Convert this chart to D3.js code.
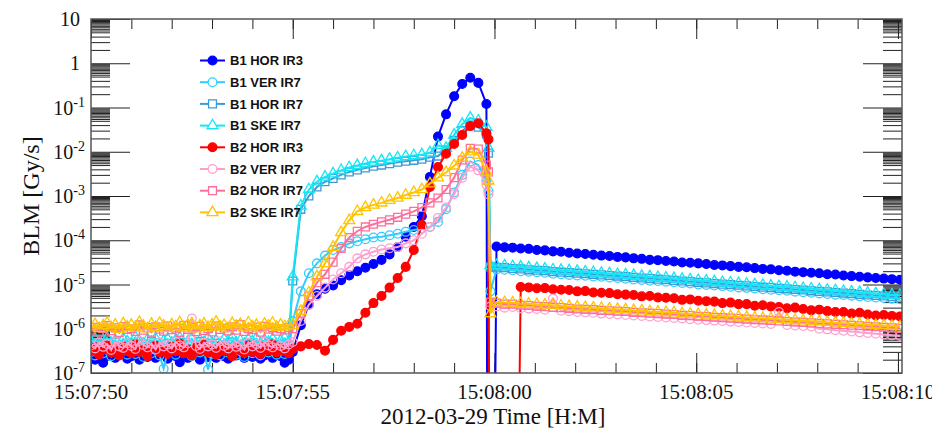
<!DOCTYPE html>
<html>
<head>
<meta charset="utf-8">
<script src="https://cdn.jsdelivr.net/npm/d3@7"></script>
<style>
  body { margin: 0; background: #fff; }
  svg { display: block; }
</style>
</head>
<body>
<svg id="chart" width="932" height="430"></svg>
<script>
// seconds after 15:07:50
var times = [
  0,0.1,0.2,0.3,0.4,0.5,0.6,0.7,0.8,0.9,1,1.1,1.2,1.3,1.4,1.5,1.6,1.7,1.8,1.9,
  2,2.1,2.2,2.3,2.4,2.5,2.6,2.7,2.8,2.9,3,3.1,3.2,3.3,3.4,3.5,3.6,3.7,3.8,3.9,
  4,4.1,4.2,4.3,4.4,4.5,4.6,4.7,4.8,4.9,
  5,5.2,5.4,5.6,5.8,6,6.2,6.4,6.6,6.8,7,7.2,7.4,7.6,7.8,8,8.2,8.4,8.6,8.8,9,9.2,9.4,9.6,9.8,
  9.85,9.9,
  10.05,10.25,10.45,10.65,10.85,11.05,11.25,11.45,11.65,11.85,
  12.05,12.25,12.45,12.65,12.85,13.05,13.25,13.45,13.65,13.85,
  14.05,14.25,14.45,14.65,14.85,15.05,15.25,15.45,15.65,15.85,
  16.05,16.25,16.45,16.65,16.85,17.05,17.25,17.45,17.65,17.85,
  18.05,18.25,18.45,18.65,18.85,19.05,19.25,19.45,19.65,19.85,
  20.05
];

// BLM readings [Gy/s]; 0 = no reading (drawn down off the axis)
var b1HorIr3 = [
  2.3e-7,2.0e-7,2.7e-7,1.7e-7,2.5e-7,2.9e-7,2.2e-7,2.6e-7,3.1e-7,2.1e-7,
  2.4e-7,2.8e-7,2.0e-7,2.6e-7,2.3e-7,3.0e-7,2.2e-7,2.5e-7,2.7e-7,2.1e-7,
  2.9e-7,2.4e-7,1.75e-7,2.6e-7,2.2e-7,2.8e-7,2.5e-7,2.0e-7,3.1e-7,2.3e-7,
  2.6e-7,2.2e-7,2.9e-7,2.4e-7,2.1e-7,2.7e-7,2.5e-7,3.0e-7,2.2e-7,2.6e-7,
  2.3e-7,2.8e-7,2.1e-7,2.5e-7,2.9e-7,2.2e-7,2.6e-7,2.4e-7,1.7e-7,2.0e-7,
  3e-7,1.2e-6,3.5e-6,6e-6,8e-6,9.5e-6,1.25e-5,1.6e-5,2e-5,2.4e-5,
  2.9e-5,3.6e-5,4.8e-5,7e-5,1.2e-4,2e-4,3.5e-4,2.7e-3,2.2e-2,7e-2,
  0.18,0.34,0.47,0.36,0.12,
  0,0,
  7.2e-5,6.9e-5,6.8e-5,6.5e-5,6.4e-5,6.0e-5,5.9e-5,5.6e-5,5.5e-5,5.2e-5,
  5.0e-5,4.9e-5,4.7e-5,4.5e-5,4.4e-5,4.2e-5,4.1e-5,3.9e-5,3.8e-5,3.6e-5,
  3.55e-5,3.4e-5,3.3e-5,3.15e-5,3.1e-5,3.0e-5,2.9e-5,2.75e-5,2.7e-5,2.6e-5,
  2.5e-5,2.45e-5,2.35e-5,2.25e-5,2.2e-5,2.1e-5,2.05e-5,1.95e-5,1.9e-5,1.85e-5,
  1.8e-5,1.7e-5,1.68e-5,1.6e-5,1.55e-5,1.5e-5,1.45e-5,1.4e-5,1.36e-5,1.32e-5,
  1.28e-5
];
var b1VerIr7 = [
  3.0e-7,2.5e-7,3.6e-7,2.8e-7,3.3e-7,2.4e-7,3.8e-7,2.9e-7,3.2e-7,2.6e-7,
  3.5e-7,2.7e-7,3.1e-7,2.3e-7,3.7e-7,2.8e-7,3.3e-7,2.5e-7,1.25e-7,3.0e-7,
  3.4e-7,2.6e-7,3.9e-7,2.8e-7,3.2e-7,2.4e-7,3.5e-7,2.9e-7,3.1e-7,1.2e-7,
  2.7e-7,3.6e-7,2.5e-7,3.3e-7,2.9e-7,3.8e-7,2.6e-7,3.1e-7,2.3e-7,3.4e-7,
  2.8e-7,3.7e-7,2.5e-7,3.2e-7,2.9e-7,3.5e-7,2.6e-7,3.3e-7,2.7e-7,3.0e-7,
  1.5e-6,7e-6,1.8e-5,3e-5,4.5e-5,6e-5,7e-5,8.5e-5,9.5e-5,1.05e-4,
  1.15e-4,1.2e-4,1.3e-4,1.4e-4,1.55e-4,1.7e-4,1.85e-4,2e-4,2.6e-4,5e-4,
  1.2e-3,3e-3,6e-3,5e-3,2.2e-3,
  1.3e-3,7e-6,
  2.2e-5,2.15e-5,2.1e-5,2.0e-5,1.95e-5,1.9e-5,1.85e-5,1.75e-5,1.7e-5,1.65e-5,
  1.6e-5,1.58e-5,1.52e-5,1.5e-5,1.44e-5,1.4e-5,1.35e-5,1.3e-5,1.26e-5,1.22e-5,
  1.2e-5,1.15e-5,1.12e-5,1.08e-5,1.05e-5,1.0e-5,9.8e-6,9.5e-6,9.2e-6,8.9e-6,
  8.6e-6,8.4e-6,8.1e-6,7.8e-6,7.6e-6,7.4e-6,7.2e-6,6.9e-6,6.7e-6,6.5e-6,
  6.3e-6,6.1e-6,5.9e-6,5.8e-6,5.6e-6,5.4e-6,5.2e-6,5.1e-6,4.95e-6,4.8e-6,
  4.65e-6
];
var b1HorIr7 = [
  4.1e-7,3.5e-7,4.8e-7,3.9e-7,4.4e-7,3.3e-7,5.0e-7,3.8e-7,4.3e-7,3.6e-7,
  4.7e-7,4.0e-7,3.4e-7,4.5e-7,3.9e-7,5.2e-7,3.7e-7,4.2e-7,3.5e-7,4.6e-7,
  4.0e-7,3.3e-7,4.9e-7,3.8e-7,4.4e-7,3.6e-7,4.1e-7,5.1e-7,3.9e-7,4.3e-7,
  3.4e-7,4.7e-7,3.8e-7,4.2e-7,3.6e-7,4.9e-7,4.0e-7,3.5e-7,4.5e-7,3.9e-7,
  4.6e-7,3.7e-7,4.3e-7,3.4e-7,4.8e-7,4.0e-7,3.6e-7,4.4e-7,3.9e-7,4.2e-7,
  1.2e-5,5e-4,1.0e-3,1.6e-3,2.1e-3,2.5e-3,3e-3,3.5e-3,3.9e-3,4.3e-3,
  4.7e-3,5e-3,5.4e-3,5.8e-3,6.1e-3,6.4e-3,6.8e-3,7.5e-3,8e-3,1.1e-2,
  1.8e-2,3e-2,4e-2,3.6e-2,2.5e-2,
  9.3e-3,2.5e-5,
  2.45e-5,2.4e-5,2.3e-5,2.25e-5,2.15e-5,2.1e-5,2.05e-5,1.95e-5,1.9e-5,1.85e-5,
  1.8e-5,1.75e-5,1.7e-5,1.65e-5,1.6e-5,1.55e-5,1.5e-5,1.45e-5,1.4e-5,1.36e-5,
  1.32e-5,1.28e-5,1.24e-5,1.2e-5,1.16e-5,1.12e-5,1.09e-5,1.05e-5,1.02e-5,9.9e-6,
  9.6e-6,9.3e-6,9.0e-6,8.7e-6,8.5e-6,8.2e-6,8.0e-6,7.7e-6,7.5e-6,7.2e-6,
  7.0e-6,6.8e-6,6.6e-6,6.4e-6,6.2e-6,6.0e-6,5.8e-6,5.65e-6,5.5e-6,5.3e-6,
  5.15e-6
];
var b1SkeIr7 = [
  5.0e-7,5.8e-7,4.4e-7,5.4e-7,6.2e-7,4.7e-7,5.5e-7,4.2e-7,5.9e-7,5.1e-7,
  4.6e-7,6.4e-7,5.2e-7,4.5e-7,5.7e-7,4.9e-7,6.0e-7,4.3e-7,5.3e-7,5.8e-7,
  4.8e-7,5.5e-7,6.3e-7,4.6e-7,5.1e-7,5.9e-7,4.4e-7,5.6e-7,5.0e-7,6.1e-7,
  4.7e-7,5.3e-7,4.2e-7,5.8e-7,5.2e-7,6.4e-7,4.8e-7,5.4e-7,4.5e-7,5.7e-7,
  5.1e-7,6.0e-7,4.6e-7,5.5e-7,4.9e-7,5.8e-7,4.4e-7,5.3e-7,6.1e-7,5.0e-7,
  1.5e-5,6e-4,1.4e-3,2.1e-3,2.7e-3,3.2e-3,3.8e-3,4.4e-3,4.9e-3,5.4e-3,
  5.9e-3,6.3e-3,6.8e-3,7.3e-3,7.8e-3,8.2e-3,8.6e-3,9.5e-3,1.4e-2,1.2e-2,
  2.4e-2,4.2e-2,5.8e-2,5e-2,3.6e-2,
  1.2e-2,2.7e-5,
  2.7e-5,2.65e-5,2.55e-5,2.5e-5,2.4e-5,2.3e-5,2.25e-5,2.15e-5,2.1e-5,2.05e-5,
  2.0e-5,1.92e-5,1.88e-5,1.8e-5,1.76e-5,1.7e-5,1.66e-5,1.6e-5,1.54e-5,1.5e-5,
  1.45e-5,1.41e-5,1.37e-5,1.32e-5,1.28e-5,1.24e-5,1.2e-5,1.16e-5,1.12e-5,1.09e-5,
  1.06e-5,1.02e-5,9.9e-6,9.6e-6,9.3e-6,9.0e-6,8.8e-6,8.5e-6,8.2e-6,8.0e-6,
  7.7e-6,7.5e-6,7.3e-6,7.0e-6,6.8e-6,6.6e-6,6.4e-6,6.2e-6,6.0e-6,5.8e-6,
  5.7e-6
];
var b2HorIr3 = [
  3.1e-7,3.8e-7,2.6e-7,3.4e-7,4.2e-7,2.9e-7,3.6e-7,2.5e-7,3.9e-7,3.2e-7,
  2.8e-7,4.4e-7,3.0e-7,3.5e-7,2.4e-7,3.7e-7,4.1e-7,2.9e-7,3.3e-7,2.7e-7,
  3.9e-7,3.1e-7,4.6e-7,2.8e-7,3.4e-7,2.5e-7,3.8e-7,3.2e-7,4.3e-7,2.9e-7,
  3.5e-7,2.6e-7,4.0e-7,3.1e-7,3.6e-7,2.4e-7,3.8e-7,3.3e-7,2.8e-7,4.2e-7,
  3.0e-7,3.5e-7,2.7e-7,3.9e-7,3.2e-7,4.4e-7,2.9e-7,3.6e-7,3.1e-7,2.8e-7,
  3.5e-7,4e-7,4.5e-7,4.3e-7,3.2e-7,5.6e-7,9e-7,1.1e-6,1.3e-6,2.3e-6,
  3.8e-6,5.5e-6,8.5e-6,1.4e-5,2.5e-5,6e-5,2.2e-4,1.6e-3,4.5e-3,9e-3,
  1.5e-2,2.4e-2,3.8e-2,4.4e-2,2.6e-2,
  1.9e-2,0,
  0,0,0,8.8e-6,8.6e-6,8.2e-6,8.3e-6,7.8e-6,7.6e-6,7.5e-6,
  7.0e-6,7.1e-6,6.6e-6,6.5e-6,6.4e-6,6.0e-6,5.9e-6,5.8e-6,5.4e-6,5.5e-6,
  5.1e-6,5.0e-6,4.9e-6,4.5e-6,4.6e-6,4.3e-6,4.2e-6,4.1e-6,3.8e-6,3.9e-6,
  3.6e-6,3.6e-6,3.3e-6,3.4e-6,3.2e-6,3.1e-6,2.9e-6,3.0e-6,2.8e-6,2.6e-6,
  2.7e-6,2.5e-6,2.4e-6,2.4e-6,2.2e-6,2.3e-6,2.1e-6,2.0e-6,2.05e-6,1.95e-6,
  1.9e-6
];
var b2VerIr7 = [
  4.2e-7,3.6e-7,4.9e-7,3.9e-7,4.5e-7,3.3e-7,5.1e-7,4.0e-7,3.7e-7,4.7e-7,
  4.1e-7,3.5e-7,5.3e-7,4.3e-7,3.8e-7,4.6e-7,3.4e-7,4.9e-7,4.0e-7,4.4e-7,
  3.6e-7,5.0e-7,4.2e-7,3.8e-7,4.7e-7,1.7e-6,4.1e-7,3.5e-7,4.8e-7,4.0e-7,
  4.4e-7,3.7e-7,5.2e-7,4.1e-7,3.6e-7,4.6e-7,3.9e-7,4.3e-7,3.4e-7,4.9e-7,
  4.0e-7,4.5e-7,3.7e-7,5.0e-7,4.2e-7,3.8e-7,4.6e-7,4.1e-7,3.6e-7,4.4e-7,
  5e-7,1.5e-6,3.5e-6,5.5e-6,8.5e-6,1.3e-5,1.8e-5,2.5e-5,3.9e-5,4.8e-5,
  5.5e-5,6.2e-5,6.6e-5,7e-5,8.5e-5,1e-4,1.4e-4,2e-4,3.2e-4,5.5e-4,
  1.1e-3,2.6e-3,4.6e-3,3.8e-3,1.8e-3,
  1.1e-3,3.2e-6,
  3.2e-6,3.0e-6,3.1e-6,2.9e-6,2.85e-6,2.8e-6,2.7e-6,4.8e-6,2.55e-6,2.5e-6,
  2.4e-6,2.35e-6,2.3e-6,2.2e-6,2.15e-6,2.1e-6,2.05e-6,2.0e-6,1.95e-6,1.9e-6,
  1.85e-6,1.8e-6,1.75e-6,1.7e-6,1.65e-6,1.6e-6,1.57e-6,1.53e-6,1.5e-6,1.45e-6,
  1.42e-6,1.38e-6,1.35e-6,1.32e-6,1.28e-6,2.4e-6,1.22e-6,1.18e-6,1.15e-6,1.12e-6,
  1.0e-6,9.7e-7,9.3e-7,9.0e-7,8.7e-7,8.3e-7,8.0e-7,7.7e-7,7.4e-7,7.1e-7,
  6.9e-7
];
var b2HorIr7 = [
  9.4e-7,1.08e-6,8.5e-7,1.02e-6,1.18e-6,9.0e-7,1.05e-6,8.2e-7,1.12e-6,9.6e-7,
  1.0e-6,8.7e-7,1.22e-6,9.3e-7,1.06e-6,8.4e-7,1.1e-6,9.8e-7,8.8e-7,1.15e-6,
  9.5e-7,1.03e-6,8.3e-7,1.2e-6,9.7e-7,1.07e-6,8.6e-7,1.13e-6,9.2e-7,1.0e-6,
  8.5e-7,1.17e-6,9.6e-7,1.04e-6,8.9e-7,1.11e-6,9.3e-7,1.24e-6,8.7e-7,1.01e-6,
  9.5e-7,1.09e-6,8.4e-7,1.14e-6,9.8e-7,1.05e-6,8.8e-7,1.0e-6,9.4e-7,1.06e-6,
  1.0e-6,2.2e-6,5.5e-6,1.1e-5,1.7e-5,3.2e-5,6.5e-5,1.15e-4,1.6e-4,2e-4,
  2.3e-4,2.6e-4,2.9e-4,3.3e-4,3.9e-4,4.5e-4,5.5e-4,7e-4,9e-4,1.4e-3,
  2.6e-3,6.5e-3,1.2e-2,1.15e-2,5e-3,
  3.5e-3,4e-6,
  3.8e-6,3.6e-6,3.6e-6,3.4e-6,3.35e-6,3.2e-6,3.15e-6,3.05e-6,3.0e-6,2.9e-6,
  2.8e-6,2.75e-6,2.7e-6,2.6e-6,2.55e-6,2.5e-6,2.45e-6,2.35e-6,2.3e-6,2.25e-6,
  2.2e-6,2.15e-6,2.1e-6,2.0e-6,1.98e-6,1.92e-6,1.88e-6,1.82e-6,1.78e-6,1.74e-6,
  1.7e-6,1.65e-6,1.6e-6,1.58e-6,1.54e-6,1.5e-6,1.46e-6,1.42e-6,1.39e-6,1.36e-6,
  1.32e-6,1.29e-6,1.26e-6,1.23e-6,1.2e-6,1.17e-6,1.14e-6,1.11e-6,1.08e-6,1.05e-6,
  1.02e-6
];
var b2SkeIr7 = [
  1.12e-6,1.25e-6,1.02e-6,1.18e-6,1.35e-6,1.06e-6,1.22e-6,0.98e-6,1.3e-6,1.1e-6,
  1.2e-6,1.04e-6,1.4e-6,1.14e-6,1.0e-6,1.27e-6,1.08e-6,1.33e-6,1.16e-6,1.03e-6,
  1.24e-6,1.12e-6,1.38e-6,1.05e-6,1.2e-6,1.3e-6,1.0e-6,1.17e-6,1.28e-6,1.07e-6,
  1.22e-6,1.42e-6,1.1e-6,1.19e-6,1.02e-6,1.32e-6,1.14e-6,1.25e-6,1.06e-6,1.36e-6,
  1.12e-6,1.2e-6,1.01e-6,1.28e-6,1.15e-6,1.34e-6,1.08e-6,1.22e-6,1.12e-6,1.18e-6,
  1.2e-6,2.5e-6,6.5e-6,1.5e-5,3e-5,7e-5,1.5e-4,2.8e-4,4.5e-4,5.5e-4,
  6.3e-4,7e-4,8e-4,9e-4,1.05e-3,1.2e-3,1.4e-3,1.9e-3,2.6e-3,3.4e-3,
  4.8e-3,7.2e-3,1.0e-2,8.5e-3,3.5e-3,
  2.2e-3,2.2e-6,
  4.0e-6,3.9e-6,3.85e-6,3.7e-6,3.65e-6,3.55e-6,3.45e-6,3.4e-6,3.3e-6,3.2e-6,
  3.1e-6,3.05e-6,2.95e-6,2.9e-6,2.8e-6,2.75e-6,2.7e-6,2.6e-6,2.55e-6,2.45e-6,
  2.4e-6,2.35e-6,2.3e-6,2.2e-6,2.15e-6,2.1e-6,2.05e-6,2.0e-6,1.95e-6,1.9e-6,
  1.85e-6,1.8e-6,1.75e-6,1.72e-6,1.68e-6,1.63e-6,1.6e-6,1.55e-6,1.52e-6,1.48e-6,
  1.45e-6,1.4e-6,1.37e-6,1.34e-6,1.3e-6,1.27e-6,1.24e-6,1.21e-6,1.18e-6,1.15e-6,
  1.12e-6
];

var seriesNames = ["B1 HOR IR3", "B1 VER IR7", "B1 HOR IR7", "B1 SKE IR7",
                   "B2 HOR IR3", "B2 VER IR7", "B2 HOR IR7", "B2 SKE IR7"];
var seriesValues = [b1HorIr3, b1VerIr7, b1HorIr7, b1SkeIr7, b2HorIr3, b2VerIr7, b2HorIr7, b2SkeIr7];

var xTickSeconds = [0, 5, 10, 15, 20];
var xTickLabels = ["15:07:50", "15:07:55", "15:08:00", "15:08:05", "15:08:10"];
var yTickExps = [-7, -6, -5, -4, -3, -2, -1, 0, 1];
var minorMantissas = [2, 3, 4, 5, 5.5, 6, 6.5, 7, 7.5, 8, 8.5, 9, 9.5];

// styles
var styles = [
  { color: "#0000ff", shape: "circle", filled: true },
  { color: "#33ccff", shape: "circle", filled: false },
  { color: "#3d9bd6", shape: "square", filled: false },
  { color: "#14e6f5", shape: "triangle", filled: false },
  { color: "#ff0000", shape: "circle", filled: true },
  { color: "#ff9fcf", shape: "circle", filled: false },
  { color: "#ff6f9c", shape: "square", filled: false },
  { color: "#ffc400", shape: "triangle", filled: false }
];
var symbolTypes = { circle: d3.symbolCircle, square: d3.symbolSquare, triangle: d3.symbolTriangle };
var symbolSizes = { circle: 60, square: 62, triangle: 52 };

var svg = d3.select("#chart");
var plotL = 91, plotR = 902, plotT = 19, plotB = 373;

var x = d3.scaleLinear().domain([0, 20.1]).range([plotL, plotR]);
var y = d3.scaleLog().domain([1e-7, 10]).range([plotB, plotT]);
var zeroFloor = 1e-20;   // where a zero reading is sent (far below the frame)
function py(v) { return y(v > 0 ? v : zeroFloor); }

svg.append("defs").append("clipPath").attr("id", "plotclip")
  .append("rect").attr("x", plotL).attr("y", plotT)
  .attr("width", plotR - plotL).attr("height", plotB - plotT);

// ticks
function ticks(axis, values, size, transform) {
  var g = svg.append("g").attr("transform", transform)
    .call(axis.tickValues(values).tickSize(size).tickFormat(""));
  g.select(".domain").remove();
  g.selectAll("line").attr("stroke", "#222").attr("stroke-width", 1);
}
var secMinor = d3.range(0, 21, 1);
var yMajor = yTickExps.map(function(e) { return Math.pow(10, e); });
var yMinor = [];
yTickExps.slice(0, -1).forEach(function(e) {
  minorMantissas.forEach(function(m) { yMinor.push(m * Math.pow(10, e)); });
});

ticks(d3.axisBottom(x), secMinor, -10, "translate(0," + plotB + ")");
ticks(d3.axisBottom(x), xTickSeconds, -20, "translate(0," + plotB + ")");
ticks(d3.axisTop(x), secMinor, -10, "translate(0," + plotT + ")");
ticks(d3.axisTop(x), xTickSeconds, -20, "translate(0," + plotT + ")");
ticks(d3.axisLeft(y), yMinor, -19, "translate(" + plotL + ",0)");
ticks(d3.axisLeft(y), yMajor, -39, "translate(" + plotL + ",0)");
ticks(d3.axisRight(y), yMinor, -19, "translate(" + plotR + ",0)");
ticks(d3.axisRight(y), yMajor, -39, "translate(" + plotR + ",0)");

// data
var plot = svg.append("g").attr("clip-path", "url(#plotclip)");
var line = d3.line()
  .x(function(d) { return x(d[0]); })
  .y(function(d) { return py(d[1]); });

seriesValues.forEach(function(vals, i) {
  var st = styles[i];
  var pts = vals.map(function(v, j) { return [times[j], v]; });
  var g = plot.append("g");
  g.append("path").datum(pts)
    .attr("d", line)
    .attr("fill", "none")
    .attr("stroke", st.color)
    .attr("stroke-width", 2);
  g.selectAll("path.m").data(pts.filter(function(d) { return d[1] > 0; }))
    .enter().append("path")
    .attr("class", "m")
    .attr("d", d3.symbol().type(symbolTypes[st.shape]).size(symbolSizes[st.shape]))
    .attr("transform", function(d) { return "translate(" + x(d[0]) + "," + py(d[1]) + ")"; })
    .attr("fill", st.filled ? st.color : "none")
    .attr("stroke", st.color)
    .attr("stroke-width", 1.3);
});

// frame
svg.append("rect")
  .attr("x", plotL).attr("y", plotT)
  .attr("width", plotR - plotL).attr("height", plotB - plotT)
  .attr("fill", "none").attr("stroke", "#555").attr("stroke-width", 1.5);

// y tick labels
var serif = "'Liberation Serif', 'Times New Roman', serif";
yTickExps.forEach(function(e) {
  var t = svg.append("text")
    .attr("y", y(Math.pow(10, e)) + 7)
    .attr("text-anchor", "end")
    .attr("font-family", serif)
    .attr("font-size", 20)
    .attr("fill", "#111");
  if (e === 1) {
    t.attr("x", 80).text("10");
  } else if (e === 0) {
    t.attr("x", 80).text("1");
  } else {
    t.attr("x", 85);
    t.append("tspan").text("10");
    t.append("tspan").attr("dy", -8).attr("font-size", 14).text(String(e));
  }
});

// x tick labels
xTickSeconds.forEach(function(s, i) {
  svg.append("text")
    .attr("x", x(s)).attr("y", 399)
    .attr("text-anchor", "middle")
    .attr("font-family", serif)
    .attr("font-size", 21)
    .attr("fill", "#111")
    .text(xTickLabels[i]);
});

// axis titles
svg.append("text")
  .attr("x", 493).attr("y", 424)
  .attr("text-anchor", "middle")
  .attr("font-family", serif).attr("font-size", 23).attr("fill", "#111")
  .text("2012-03-29 Time [H:M]");
svg.append("text")
  .attr("transform", "translate(39,196) rotate(-90)")
  .attr("text-anchor", "middle")
  .attr("font-family", serif).attr("font-size", 24).attr("fill", "#111")
  .text("BLM [Gy/s]");

// legend
var legend = svg.append("g");
seriesNames.forEach(function(name, i) {
  var st = styles[i];
  var ly = 60.5 + i * 21.7;
  legend.append("line")
    .attr("x1", 200).attr("x2", 225).attr("y1", ly).attr("y2", ly)
    .attr("stroke", st.color).attr("stroke-width", 2);
  legend.append("path")
    .attr("d", d3.symbol().type(symbolTypes[st.shape]).size(symbolSizes[st.shape]))
    .attr("transform", "translate(212.5," + ly + ")")
    .attr("fill", st.filled ? st.color : "#fff")
    .attr("stroke", st.color).attr("stroke-width", 1.3);
  legend.append("text")
    .attr("x", 230).attr("y", ly + 4.7)
    .attr("font-family", "'Liberation Sans', Arial, sans-serif")
    .attr("font-weight", "bold").attr("font-size", 13)
    .attr("fill", "#111")
    .text(name);
});
</script>
</body>
</html>
